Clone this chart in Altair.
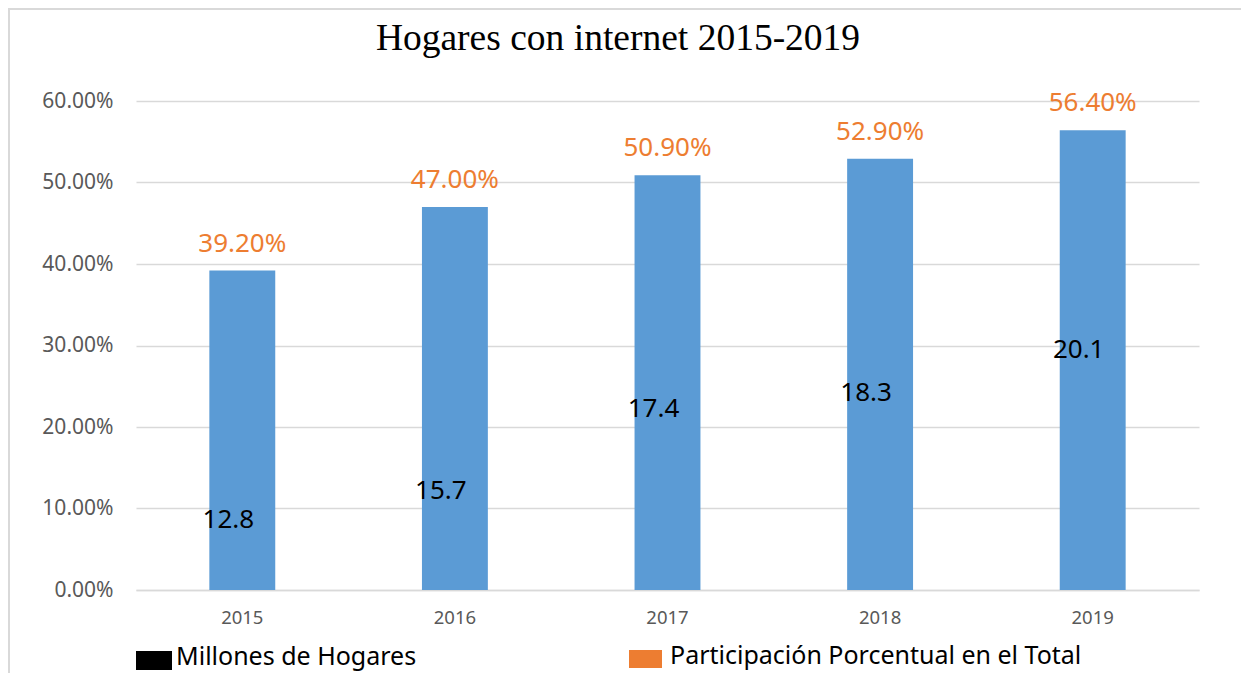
import altair as alt
import pandas as pd

years = ["2015", "2016", "2017", "2018", "2019"]
participacion = [0.392, 0.470, 0.509, 0.529, 0.564]
millones = [12.8, 15.7, 17.4, 18.3, 20.1]
# height (in axis units) at which each "millones" label sits in the picture
millones_label_height = [0.086, 0.1215, 0.222, 0.242, 0.294]
y_ticks = [0.0, 0.1, 0.2, 0.3, 0.4, 0.5, 0.6]

title_text = "Hogares con internet 2015-2019"
legend_black = "Millones de Hogares"
legend_orange = "Participación Porcentual en el Total"

BLUE = "#5B9BD5"
ORANGE = "#ED7D31"
GRID = "#d9d9d9"
FONT = "Noto Sans"

df = pd.DataFrame({
    "year": years,
    "pct": participacion,
    "mill": millones,
    "mpos": millones_label_height,
})

W, H = 1063, 489

xenc = alt.X("year:N", sort=years, title=None,
             scale=alt.Scale(paddingInner=0.69, paddingOuter=0.345),
             axis=alt.Axis(labelAngle=0, labelFont=FONT, labelFontSize=18.5,
                           labelColor="#595959", labelPadding=18, ticks=False,
                           domainColor=GRID, domainWidth=1.5))
yscale = alt.Scale(domain=[0, 0.6], nice=False)

base = alt.Chart(df)

bars = base.mark_bar(color=BLUE).encode(
    x=xenc,
    y=alt.Y("pct:Q", scale=yscale, title=None,
            axis=alt.Axis(values=y_ticks, format=".2%", labelFont=FONT,
                          labelFontSize=21, labelColor="#595959",
                          labelPadding=23, ticks=False, domain=False,
                          gridColor=GRID, gridWidth=1.5)),
)

pct_text = base.mark_text(color=ORANGE, font=FONT, fontSize=26,
                          baseline="alphabetic", dy=-19).encode(
    x=alt.X("year:N", sort=years),
    y=alt.Y("pct:Q", scale=yscale),
    text=alt.Text("pct:Q", format=".2%"),
)

mill_text = base.mark_text(color="black", font=FONT, fontSize=26,
                           baseline="middle", dx=-14).encode(
    x=alt.X("year:N", sort=years),
    y=alt.Y("mpos:Q", scale=yscale),
    text=alt.Text("mill:Q", format=".1f"),
)

one = pd.DataFrame({"a": [0]})

border = alt.Chart(one).mark_rect(fill=None, stroke="#d9d9d9", strokeWidth=2).encode(
    x=alt.value(-127), x2=alt.value(W + 80), y=alt.value(-92), y2=alt.value(H + 120)
)

title = alt.Chart(one).mark_text(font="Liberation Serif", fontSize=37.5, color="black",
                                 align="center", baseline="alphabetic").encode(
    x=alt.value(482), y=alt.value(-51), text=alt.value(title_text)
)

leg_black_sq = alt.Chart(one).mark_rect(color="black").encode(
    x=alt.value(0), x2=alt.value(36), y=alt.value(550), y2=alt.value(569)
)
leg_black_tx = alt.Chart(one).mark_text(font=FONT, fontSize=25, color="black",
                                        align="left", baseline="middle").encode(
    x=alt.value(40), y=alt.value(556), text=alt.value(legend_black)
)
leg_or_sq = alt.Chart(one).mark_rect(color=ORANGE).encode(
    x=alt.value(493), x2=alt.value(526), y=alt.value(549), y2=alt.value(567)
)
leg_or_tx = alt.Chart(one).mark_text(font=FONT, fontSize=25, color="black",
                                     align="left", baseline="middle").encode(
    x=alt.value(534), y=alt.value(555), text=alt.value(legend_orange)
)

chart = alt.layer(
    border, bars, pct_text, mill_text, title,
    leg_black_sq, leg_black_tx, leg_or_sq, leg_or_tx
).properties(
    width=W, height=H,
    autosize=alt.AutoSizeParams(type="none"),
    padding={"left": 128, "top": 93, "right": 42, "bottom": 83},
).configure_view(stroke=None)

chart.save("out.html", embed_options={"renderer": "svg", "actions": False})
